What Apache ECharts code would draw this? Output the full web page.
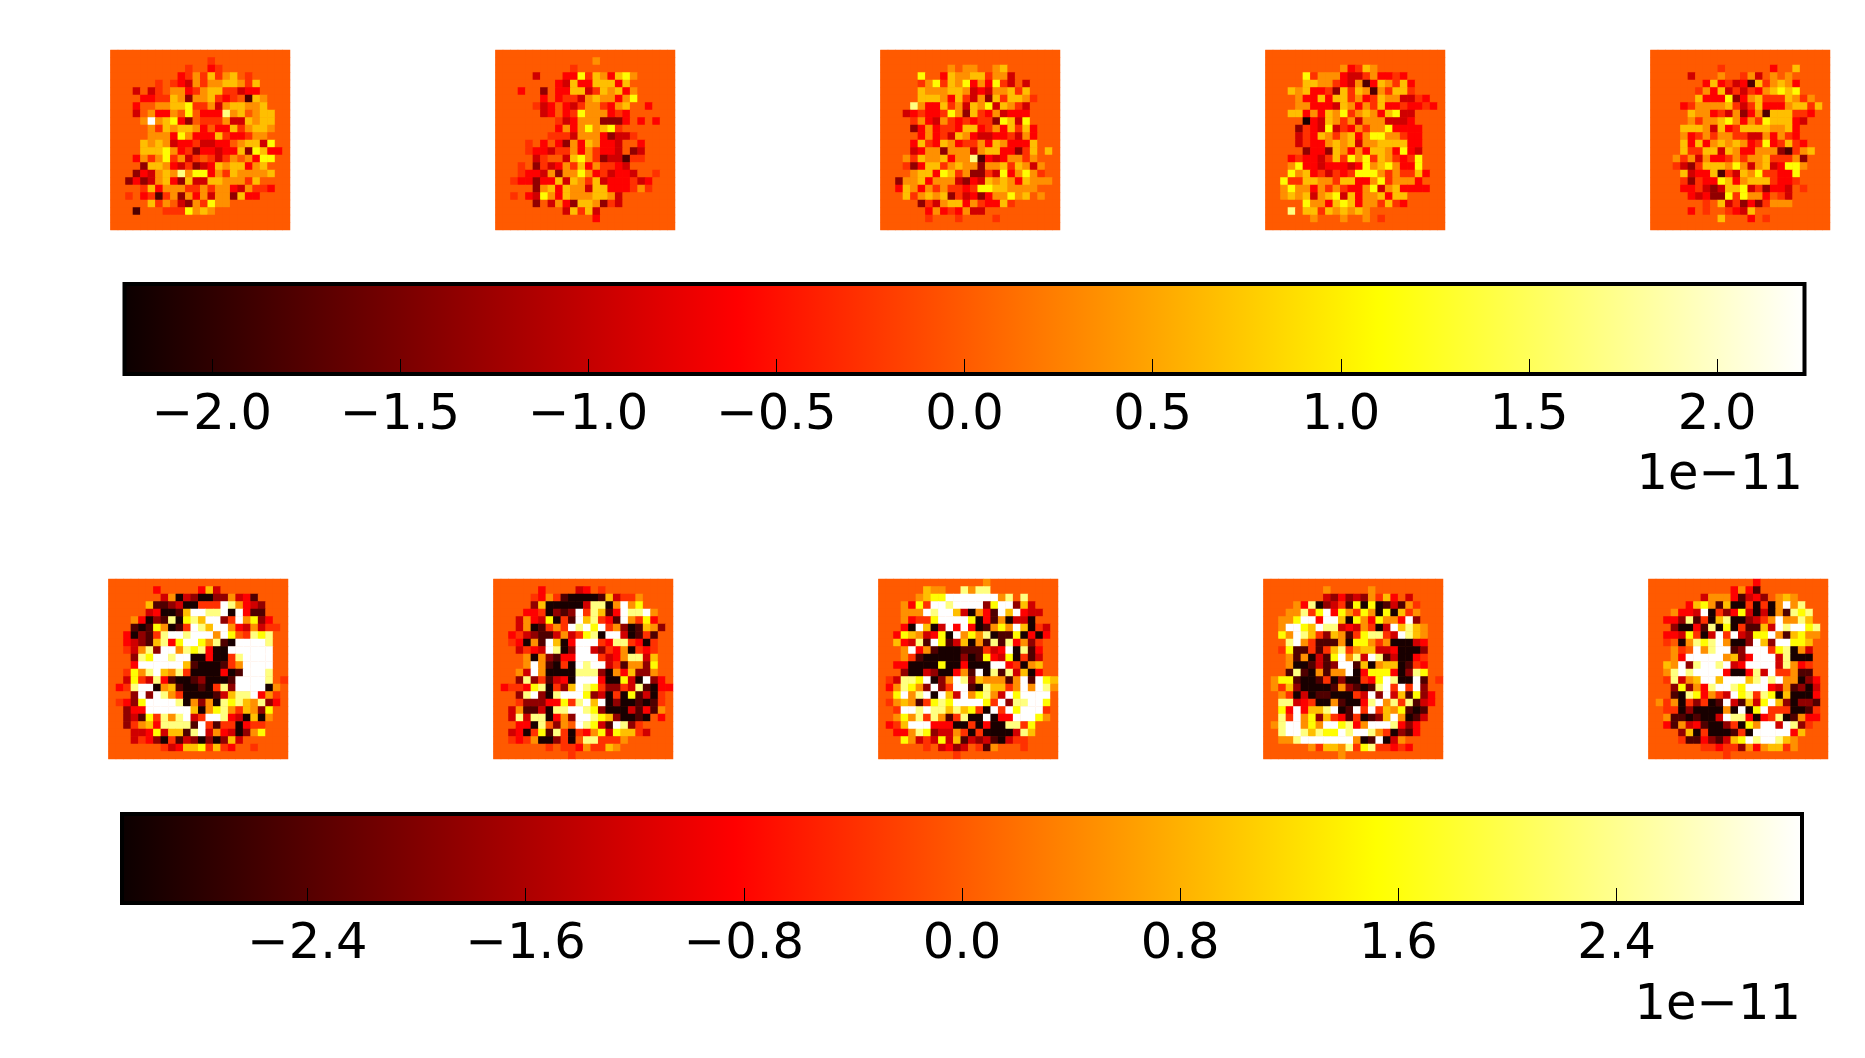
<!DOCTYPE html>
<html>
<head>
<meta charset="utf-8">
<style>html,body{margin:0;padding:0;background:#fff}#c{width:1865px;height:1058px}</style>
<script src="https://cdn.jsdelivr.net/npm/echarts@6/dist/echarts.min.js"></script>
</head>
<body>
<div id="c"></div>
<script>
// Each row is read left to right; rows stop at the last non-background cell.
// Letters name a colour level: K D M R r o . a y Y L W
const topPanel1 = ["",".............o","..........o..ro",".........roaoyoay.o","......o.orRaoaayyaoy","...R.Ro.aaroayyooRrr","....rrooyaMaayoro.Dya","...r..aayyYooaRayyaay","...R.arra.Y.rrrLay.ayy","....aWayYrM.oooaRRyayy",".....aoyayyar.rryoayya",".....aaarYarrryorroaa","....yayaRrroRRrr.ayyRY","....yyyYaroMrrRrryMYyrr","...raoaYoaRo.oRoa.arYY","....MyyarRoMRryayyray","...MrRayaLaYYraoyaaaay","..MrMRayrMyRRyyaaaoy","....oyraaaooaoaarRaoor","..o.roDoaMaraRaaMyrr",".....yoa.RMaoYaa","...D...oooYaya","",""];
const topPanel2 = ["",".............a","..........o",".....R...rrYoyaryYa","........rRyrryyyry","...r..M.rryyRoyayra","......r.rooRayaaraY",".....oRr.rRoaaoray..r","......Rr.roYaaaror","........oRraaaMMMr.r.r","........raraYayYo",".......oooRaaarMRRo","....o.r.rMaryarrR..r","....orrRooaraorrR.MR",".....Ro..RyYaoMRRDoo","...o.MoRraoyraoorR","...orrRaMaaYaroRrrR..o","..orrMrryRyaoyRrrroRr",".....MayryaaRyyrrroao","..o.rRYaryaaayyaR",".....M.RarMyyaMoR",".........RyoyR",".............r",""];
const topPanel3 = ["","",".........a.aa..ay",".....Y..ryaayyoaaR",".....oaYoyaYrarYoR.R",".....yaaayyaRrRaayoy",".....yyyaryoRaMyoyyao","....LarryoaRyaYRyaoR","...RrorroYaMyoraRrrr","....oarRaororooMYyRY","....Mrarooryyroaryoyr",".....raroRyarRRrroRar","....ryoryarooaryarrry","....RraaMaaaRayyrrMoy.y","...aoyaayraaLDrRraaoa","...oMryyoayaaMaayoyaRa","....ayyrYyoaMMoRYraYao","..MaayraaaRMrRyayaryaaa","..ryaraoaooroYYyyaaaa","...yoayayMoRrMraaYay.a",".....MoRayyraorryo","......raroraRR","......o...o....o",""];
const topPanel4 = ["","","..........aroya",".....YoaaarRRoarror",".....yyaaorRaDryaoyr","...yayrroMyoyaDaoyyo","....arryryyoaroyaaRRor","....aarrrRyaraoyrrorror","...yyraryaYoayaryYRR",".....KrRyaoaRaaaRRRr","....MorRYRoraoaaYrrrr","....RoryaoayraYYaaorr","....RorrayayRaayyyyrr",".....MrrMyararyyarYrR","...rorrRoyoYaYoyaoroY","...aYrrRrrrRrYayYarrY","...YayroRoroYYYaoaooyr","..YooyyaaoyyrraYoaaar","..aYaaraoaorraYRayrrrr","..ayayRayYRyraayryy",".....YaaryYyraaoyor","...L.yyoyayaya","......a...a..a.o",""];
const topPanel5 = ["","",".........o......r..y",".....R...a..oaR.a.a",".......ryroRrDyoayar","......oaryRoRorayYyY","......yrrrYMrayoooyaoa","....roaaaayoRoyrrrayyoy",".....yaaroRaMraDyyyoor",".....aoaayYaraoYyyyrR","....yyyaRyroyyyyaayr","....aroaoaaooRRaraor","....yryrayayaroYroyor","....yooyyRyarraaaMDoay","...aoaRarroaoaayoooaM","...oRMoyyyaYaRayRrYYa","....yRrryDoRyaYoorrY","....oMorrYyrayyyorro","....rroRMRyyYRoMrrR.o",".....rRrMMYoYaar.oR",".......o.yRoMrMoaaa",".....r.o..orRy",".........y...r.o",""];
const bottomPanel1 = ["","......r.....ryR",".......RaKRMKKMMaRrD",".....yDDMRKKoooWLarRM",".....RrKKDyWWLLWKWrDD","...arKMDLKYLyWWMoWaYMr","...DKDYaKDoWLyWWarRaRoo","..rKMDoLWWLWWWaWY.oLYL","..rRMDyLrYWWYaLDKWWWWL","..oRaLMWWaLYLrKKWWWWWW","...MLYWWLWWKKrKKoLWWWW","...rWWWWWWyDKKKDoaWWWW","..oYaLWyaLoKKKKrKDWWWL","..RYoRLrDKKDMKKKDWWWWL.o",".roLWWKayDKKDKoLMWWWWKa","...MWMWLaoKKKKDRyLLWrao",".orMYWWWWLKaMaKLYLyaLMr","..MrrWWWWWWyKaYLaoyaMY","..MRDYoLaLWRoWWLrRKyKa","..MoayrLLLLDWoDooKroo","...RRrYRyyDLWRarRKMaY","...RorMKoDRMKMKMyR",".......oRryyYoyor..o",""];
const bottomPanel2 = ["","......r....Rr.o",".....oraoDKKKKDyRooa",".....MyKKKKKRLLKaWaY","....rroKMDMWoLyDrWLLWa","...RarRYKoDWyLorDWaoYr","...RaKDoaoWLWYWoaMKDyaM","..roRMDDRaRoYLKWWRKDoD","..orKaDWyKrWWWorLLorKo","...RorRWLKMWWRMoraKoro","....aKaMDrrWWWoRraLLRy","....aWaDKoKWLWWRoDaaMY","...aRWaKKKKLLLMKaryMMa","...MLMoDRrKWWWrKKYRKWMr",".roorYLKoMyWLYoMMoRLDKrr","...MLWMKLWWWYMRKoKYDRKo","...oMMMrrYoLWyWKMKKDKDo","..RaDDRKLLWWLYMKKKRDrDa","..RLRLLKraMWWLYyMKKDK.r","...rrKL.Ma.WLYRDWLMo","..RrKoYDLoKoraYRYyyoR","..oroaKKMoK.LLoooa",".......o.ooraooya","..........o"];
const bottomPanel3 = ["..............a","......yaa..LaLL",".....ayYYWWWWWWWaL.L","...arYoWWLWWWWMYWWMyR","...aaaWLWWyRKarDWyWrRR","...arooYWWWWYKrDaKRRK","...rKWyKRWrWrKDaYaWyKoR","..rYyaRrYKWaYaLKDDYKrKr","..yrRLDWYDRyKaDLDLraMo","...aWraDKKKDDDoRrWKLDr","...aoDKKKKKMKDYrRYKoDR","..rrKKKKYKKrKKKWWroKay","...MKKRMKKraDWKLDLRyKr",".oRLLYWKMaWLMyaaaDaWDWYy",".raLYaMWMoWWDKLyyoaWaWLa","..YWaLWKWyRWaYLaRWYWWWW",".oayaDoYLYWWWWYoWMLLWWY","..oWWLWLLyLyYoKWoWYWWWo","..aYaLoLaDoLKKWKrrWWWYa",".royWWWrrrKKoKrKKLLoY","..rraLYMRRaoKoKKKKRLy","...YaRoRYRyDRMRDKRoo","......o.RrMR.oDa...o","..........o"];
const bottomPanel4 = ["","........a.....a","........RMrMRMaoyr.R","....arLKMRoDYKYKDRDao","...aaLoYWrYaoYaKYKyoa","..aaYWWrWWyKYarYaarWM","..aWWYyWLLRrRaoKRWyLya","..YaWLyoMyaDoYLLoRWLya","...LWaoDDDaKYYaoaKKKRr","..oYDDoDoyLoayyRRrKKKM","...aDaKRDYWaLRWLDRKKro","...aKKDRDMWWDyKayyKDor","...DLDKaDaaWKrYYYrKMLY",".aYYDKKDoKMKKorYWLKKWD.o",".aoyMKKKKDaMDKDLWoWoWM","..aoKRKDDKKKoRWMWRyDYMr","..LLRroKKaDKKrLWaLoLDRr","..YrWryyLWKDWoWoyaYDKD","..LoWaYMyorDoKDMyWaKDR",".aLWWaYaWWYLraWWWLrMr","..LWWLyLYYWLWWLaoKMDr","..aaLWWWWWWWaKDWKRa","......aoyyaLoYLooror","..........a"];
const bottomPanel5 = ["..............r","...........rarD",".......RaaarDRrM.aya",".....ryYaDyKKoKoKaWaL","...arrRWKoMrYRKRKaDLYL","..rrMLDoKyLKKMRoaWaaLy","...MKKrDLKYKoDDyRWLWWYL","..rrRYoKRWoWRMYYWaDyYaa","..o.KaLYLWaKKMWyMWWYYy","...ao.WaLWWDMWWWoYLKaR","...arWWWWWayMrWWWRLKKK","..yaWMLWWLWRrWWWWRLaro","..aLWLWWWWrKKrLRWooaDD","..oLRayWWyWWWyLWLWaaKMr","...MYMarLWWLYWWWrRaDMKR","...DKLYraoRWYLoLYKyKKKr",".aoaKoMoKDWRDyRYWyMKMMD","..ooKMKKKKaKWKYWoooKKDo","..aDDKDKKRWLLrKroLKDarr","..rDaRrDKKMoKYaWWRWLMo","....MyKoKKKDoKWWWWWry","....oDDrMDRyYWLWWLya",".......oorooMarayyoa","..........o"];

// Position of each level inside the colour bar, 0 = left end, 1 = right end
const levelKeys = ["K", "D", "M", "R", "r", "o", ".", "a", "y", "Y", "L", "W"];
const levelPos = [0.02, 0.102, 0.2, 0.295, 0.365, 0.437, 0.5, 0.58, 0.65, 0.746, 0.873, 1];

const topExtent = [-2.232, 2.232];
const bottomExtent = [-3.08, 3.08];
const topTicks = [-2.0, -1.5, -1.0, -0.5, 0.0, 0.5, 1.0, 1.5, 2.0];
const bottomTicks = [-2.4, -1.6, -0.8, 0.0, 0.8, 1.6, 2.4];
const offsetLabel = "1e\u221211";
const hotStops = [
  { offset: 0, color: "#0b0000" },
  { offset: 0.365, color: "#ff0000" },
  { offset: 0.746, color: "#ffff00" },
  { offset: 1, color: "#ffffff" }
];

const cellIndex = Array.from({ length: 24 }, (_, i) => i);
const levelOf = Object.fromEntries(levelKeys.map((k, i) => [k, levelPos[i]]));

function toCells(rows, extent) {
  const out = [];
  cellIndex.forEach(y => {
    const row = rows[y] || "";
    cellIndex.forEach(x => {
      const pos = levelOf[row[x]] ?? levelOf["."];
      out.push([x, y, extent[0] + pos * (extent[1] - extent[0])]);
    });
  });
  return out;
}
function hotColor(t) {
  const r = Math.min(1, 0.0416 + 0.9584 * t / 0.365);
  const g = Math.max(0, Math.min(1, (t - 0.365) / 0.381));
  const b = Math.max(0, Math.min(1, (t - 0.746) / 0.254));
  return `rgb(${Math.round(r * 255)},${Math.round(g * 255)},${Math.round(b * 255)})`;
}
const hotRamp = Array.from({ length: 129 }, (_, i) => hotColor(i / 128));

const grid = [], xAxis = [], yAxis = [], series = [], visualMap = [];

function addPanel(rows, extent, left, top, mapIndex) {
  const g = grid.length;
  grid.push({ left, top, width: 179.5, height: 180, show: true, backgroundColor: hotColor(0.5), borderWidth: 0 });
  xAxis.push({ type: "category", gridIndex: g, data: cellIndex, show: false });
  yAxis.push({ type: "category", gridIndex: g, data: cellIndex, show: false, inverse: true });
  series.push({
    type: "heatmap", xAxisIndex: g, yAxisIndex: g, data: toCells(rows, extent),
    progressive: 0, animation: false, silent: true, itemStyle: { borderWidth: 0 }
  });
  visualMap[mapIndex].seriesIndex.push(series.length - 1);
}
function addBar(extent, ticks, digits, left, top, height) {
  const g = grid.length;
  grid.push({ left, top, width: 1680, height });
  xAxis.push({
    type: "value", gridIndex: g, min: extent[0], max: extent[1], z: 5,
    splitLine: { show: false }, axisLine: { show: false },
    axisTick: { show: true, inside: true, length: 15, customValues: ticks, lineStyle: { color: "#000", width: 1 } },
    axisLabel: {
      show: true, customValues: ticks, margin: 17, color: "#000", fontSize: 49.5, fontFamily: "DejaVu Sans",
      formatter: v => v.toFixed(digits).replace("-", "\u2212")
    }
  });
  yAxis.push({ type: "value", gridIndex: g, min: 0, max: 1, show: false });
  series.push({
    type: "custom", xAxisIndex: g, yAxisIndex: g, coordinateSystem: "cartesian2d", z: 1,
    silent: true, animation: false, clip: false, data: [[extent[0], extent[1]]],
    encode: { x: [0, 1] },
    renderItem: (params, api) => {
      const a = api.coord([api.value(0), 0]);
      const b = api.coord([api.value(1), 1]);
      return {
        type: "rect",
        shape: { x: a[0], y: b[1], width: b[0] - a[0], height: a[1] - b[1] },
        style: { fill: new echarts.graphic.LinearGradient(0, 0, 1, 0, hotStops), stroke: "#000", lineWidth: 4 }
      };
    }
  });
}

visualMap.push({ show: false, type: "continuous", min: topExtent[0], max: topExtent[1], seriesIndex: [], inRange: { color: hotRamp } });
visualMap.push({ show: false, type: "continuous", min: bottomExtent[0], max: bottomExtent[1], seriesIndex: [], inRange: { color: hotRamp } });

[topPanel1, topPanel2, topPanel3, topPanel4, topPanel5].forEach((rows, i) => addPanel(rows, topExtent, 110.5 + 385 * i, 50, 0));
[bottomPanel1, bottomPanel2, bottomPanel3, bottomPanel4, bottomPanel5].forEach((rows, i) => addPanel(rows, bottomExtent, 108.5 + 385 * i, 579, 1));
addBar(topExtent, topTicks, 1, 124.5, 284, 90);
addBar(bottomExtent, bottomTicks, 1, 122, 814, 89);

const chart = echarts.init(document.getElementById("c"), null, { width: 1865, height: 1058, renderer: "canvas" });
chart.setOption({
  backgroundColor: "#fff",
  animation: false,
  grid, xAxis, yAxis, series, visualMap,
  graphic: [
    { type: "text", right: 62, top: 451, style: { text: offsetLabel, fontSize: 49.5, fontFamily: "DejaVu Sans", fill: "#000" } },
    { type: "text", right: 64, top: 981, style: { text: offsetLabel, fontSize: 49.5, fontFamily: "DejaVu Sans", fill: "#000" } }
  ]
});
</script>
</body>
</html>
